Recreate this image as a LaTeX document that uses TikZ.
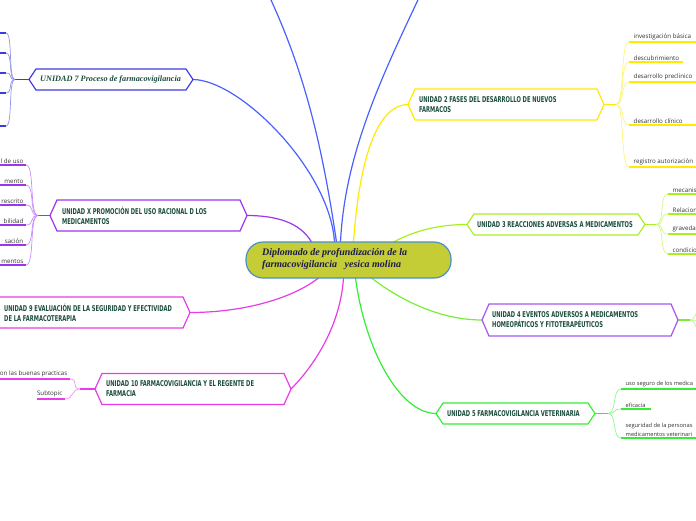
\documentclass[tikz,border=0pt]{standalone}
\usepackage{fontspec}
\setmainfont{Liberation Serif}
\newfontfamily\unitfont[FakeStretch=0.72]{DejaVu Sans Condensed}
\newfontfamily\leaffont{Open Sans}
\newfontfamily\titlefont{Liberation Serif}
\definecolor{cblue}{HTML}{4A60FF}
\definecolor{cblueb}{HTML}{3C3CDC}
\definecolor{cpurp}{HTML}{9B35F0}
\definecolor{cmag}{HTML}{E83CE8}
\definecolor{cyel}{HTML}{FFEA00}
\definecolor{clime}{HTML}{A8F020}
\definecolor{cgreen}{HTML}{33EE33}
\definecolor{cvio}{HTML}{A855EE}
\definecolor{cl4}{HTML}{77EE33}
\definecolor{cfill}{HTML}{C4CC36}
\definecolor{cbord}{HTML}{4A90C8}
\definecolor{ctext}{HTML}{1B4D3E}
\definecolor{cnavy}{HTML}{1C1C4A}
\definecolor{leafc}{HTML}{333333}
\newcommand\hexa[2]{\draw[#2, line width=1.2pt, fill=white] (#1.west) -- ([xshift=7pt]#1.north west) -- ([xshift=-7pt]#1.north east) -- (#1.east) -- ([xshift=-7pt]#1.south east) -- ([xshift=7pt]#1.south west) -- cycle;}
% right-side leaf: junction, name, xleft, xright, y, colour, text
\newcommand\leafR[7]{%
  \coordinate (#2a) at (#3,#5); \coordinate (#2b) at (#4,#5);
  \draw[#6!55, line width=0.7pt] (#1) .. controls +(9,0) and +(-9,0) .. (#2a);
  \draw[#6, line width=1.8pt] (#2a) -- (#2b);
  \node[leaf, anchor=south west] (#2t) at ([xshift=4pt,yshift=1.2pt]#2a) {#7};}
% left-side leaf: junction, name, xright, xleft, y, colour, text
\newcommand\leafL[7]{%
  \coordinate (#2a) at (#3,#5); \coordinate (#2b) at (#4,#5);
  \draw[#6!55, line width=0.7pt] (#1) .. controls +(-9,0) and +(9,0) .. (#2a);
  \draw[#6, line width=1.8pt] (#2a) -- (#2b);
  \node[leaf, anchor=south east] (#2t) at ([xshift=-2pt,yshift=1.2pt]#2a) {#7};}
% left-side leaf without visible text
\newcommand\leafN[6]{%
  \coordinate (#2a) at (#3,#5); \coordinate (#2b) at (#4,#5);
  \draw[#6!55, line width=0.7pt] (#1) .. controls +(-7,0) and +(7,0) .. (#2a);
  \draw[#6, line width=1.8pt] (#2a) -- (#2b);}
\begin{document}
\begin{tikzpicture}[x=1pt,y=-1pt,
  ph/.style={inner sep=0pt, outer sep=0pt, rectangle},
  conn/.style={line width=1.2pt},
  stub/.style={line width=1.8pt},
  unitlbl/.style={anchor=west, inner sep=0pt, align=left, font=\unitfont\bfseries\fontsize{8}{10}\selectfont, text=ctext},
  leaf/.style={inner sep=0.5pt, align=left, font=\leaffont\fontsize{6.2}{9}\selectfont, text=leafc},
]
\useasboundingbox (0,0) rectangle (696,520);
\clip (0,0) rectangle (696,520);

% placeholders
\node[ph, minimum width=205pt, minimum height=36pt] (c) at (348.5,260) {};
\node[ph, minimum width=164pt, minimum height=21pt] (u7) at (111,79.5) {};
\node[ph, minimum width=197pt, minimum height=31pt] (ux) at (148.5,215.5) {};
\node[ph, minimum width=198pt, minimum height=31pt] (u9) at (91,312.5) {};
\node[ph, minimum width=196pt, minimum height=31pt] (u10) at (193,389) {};
\node[ph, minimum width=196pt, minimum height=31pt] (u2) at (506,104.5) {};
\node[ph, minimum width=178pt, minimum height=21pt] (u3) at (556,224.5) {};
\node[ph, minimum width=196pt, minimum height=32pt] (u4) at (580,320) {};
\node[ph, minimum width=159pt, minimum height=21pt] (u5) at (515.5,413.5) {};

% main connectors
\draw[conn, cblue] ([xshift=-14pt]c.north) .. controls (330,170) and (240,80) .. (u7.east);
\coordinate (top1) at (264,-15);
\coordinate (top2) at (425,-15);
\draw[conn, cblue] ([xshift=-12pt]c.north) .. controls (320,130) and (300,60) .. (top1);
\draw[conn, cblue] ([xshift=-8pt]c.north) .. controls (345,150) and (385,70) .. (top2);
\draw[conn, cyel] ([xshift=5pt]c.north) .. controls (360,150) and (380,104.5) .. (u2.west);
\draw[conn, clime] ([xshift=45pt]c.north) .. controls (420,228) and (445,224.5) .. (u3.west);
\draw[conn, cpurp] ([xshift=-37pt]c.north) .. controls (300,222) and (275,215.5) .. (ux.east);
\draw[conn, cmag] ([xshift=-30pt]c.south) .. controls (290,300) and (240,312.5) .. (u9.east);
\draw[conn, cmag] ([xshift=-5pt]c.south) .. controls (340,330) and (310,370) .. (u10.east);
\draw[conn, cgreen] ([xshift=7pt]c.south) .. controls (365,350) and (400,413.5) .. (u5.west);
\draw[conn, cl4] ([xshift=23pt]c.south) .. controls (400,300) and (440,320) .. (u4.west);

% UNIDAD 7 leaves
\coordinate (j7) at (15,79.5);
\draw[stub, cblueb] (u7.west) -- (j7);
\leafN{j7}{l71}{6}{-3}{33}{cblueb}
\leafN{j7}{l72}{6}{-3}{53}{cblueb}
\leafN{j7}{l73}{6}{-3}{73}{cblueb}
\leafN{j7}{l74}{6}{-3}{93}{cblueb}
\leafN{j7}{l75}{6}{-3}{126}{cblueb}

% UNIDAD X leaves
\coordinate (jx) at (38,215.5);
\draw[stub, cpurp] (ux.west) -- (jx);
\leafL{jx}{lx1}{26}{-3}{165}{cpurp}{l de uso}
\leafL{jx}{lx2}{26}{-3}{185}{cpurp}{mento}
\leafL{jx}{lx3}{26}{-3}{205}{cpurp}{rescrito}
\leafL{jx}{lx4}{26}{-3}{225}{cpurp}{bilidad}
\leafL{jx}{lx5}{26}{-3}{245}{cpurp}{sación}
\leafL{jx}{lx6}{26}{-3}{265}{cpurp}{mentos}

% UNIDAD 10 leaves
\coordinate (j10) at (80,389);
\draw[stub, cmag] (u10.west) -- (j10);
\leafL{j10}{l101}{70}{-3}{379}{cmag}{on las buenas practicas}
\leafL{j10}{l102}{65}{37}{399}{cmag}{Subtopic}

% UNIDAD 2 leaves
\coordinate (j2) at (616,104.5);
\draw[stub, cyel] (u2.east) -- (j2);
\leafR{j2}{l21}{629}{700}{42}{cyel}{investigación básica}
\leafR{j2}{l22}{629}{683}{62}{cyel}{descubrimiento}
\leafR{j2}{l23}{629}{700}{82}{cyel}{desarrollo preclinico}
\leafR{j2}{l24}{629}{700}{125}{cyel}{desarrollo clínico}
\leafR{j2}{l25}{629}{700}{167}{cyel}{registro autorización}

% UNIDAD 3 leaves
\coordinate (j3) at (656,224.5);
\draw[stub, clime] (u3.east) -- (j3);
\leafR{j3}{l31}{668}{700}{194}{clime}{mecanis}
\leafR{j3}{l32}{668}{700}{214}{clime}{Relacion}
\leafR{j3}{l33}{668}{700}{234}{clime}{graveda}
\leafR{j3}{l34}{668}{700}{254}{clime}{condicio}

% UNIDAD 4 leaves (off the page)
\coordinate (j4) at (690,320);
\coordinate (l41) at (706,298);
\coordinate (l42) at (706,321);
\coordinate (l43) at (706,344);
\draw[stub, cl4] (u4.east) -- (j4);
\draw[cl4!55, line width=0.7pt] (j4) .. controls +(8,0) and +(-8,0) .. (l41);
\draw[cl4!55, line width=0.7pt] (j4) -- (l42);
\draw[cl4!55, line width=0.7pt] (j4) .. controls +(8,0) and +(-8,0) .. (l43);

% UNIDAD 5 leaves
\coordinate (j5) at (608,413.5);
\draw[stub, cgreen] (u5.east) -- (j5);
\begin{scope}[leaf/.append style={font=\leaffont\fontsize{5.7}{8.5}\selectfont}]
\leafR{j5}{l51}{621}{700}{389}{cgreen}{uso seguro de los medica}
\leafR{j5}{l52}{621}{651}{409}{cgreen}{eficacia}
\leafR{j5}{l53}{621}{700}{438}{cgreen}{seguridad de la personas\\medicamentos veterinari}
\end{scope}

% unit boxes
\hexa{u7}{cblueb}
\hexa{ux}{cpurp}
\hexa{u9}{cmag}
\hexa{u10}{cmag}
\hexa{u2}{cyel}
\hexa{u3}{clime}
\hexa{u4}{cvio}
\hexa{u5}{cgreen}

% unit labels
\node[anchor=west, inner sep=0pt, font=\titlefont\bfseries\itshape\fontsize{8.2}{10}\selectfont, text=ctext] (t7) at ([xshift=11pt]u7.west) {UNIDAD 7 Proceso de farmacovigilancia};
\node[unitlbl] (tx) at ([xshift=12pt]ux.west) {UNIDAD X PROMOCIÓN DEL USO RACIONAL D LOS\\MEDICAMENTOS};
\node[unitlbl] (t9) at ([xshift=12pt]u9.west) {UNIDAD 9 EVALUACIÓN DE LA SEGURIDAD Y EFECTIVIDAD\\DE LA FARMACOTERAPIA};
\node[unitlbl] (t10) at ([xshift=11pt]u10.west) {UNIDAD 10 FARMACOVIGILANCIA Y EL REGENTE DE\\FARMACIA};
\node[unitlbl] (t2) at ([xshift=11pt]u2.west) {UNIDAD 2 FASES DEL DESARROLLO DE NUEVOS\\FARMACOS};
\node[unitlbl] (t3) at ([xshift=10pt]u3.west) {UNIDAD 3 REACCIONES ADVERSAS A MEDICAMENTOS};
\node[unitlbl] (t4) at ([xshift=10pt]u4.west) {UNIDAD 4 EVENTOS ADVERSOS A MEDICAMENTOS\\HOMEOPÁTICOS Y FITOTERAPÉUTICOS};
\node[unitlbl] (t5) at ([xshift=11pt]u5.west) {UNIDAD 5 FARMACOVIGILANCIA VETERINARIA};

% central topic
\draw[cbord, fill=cfill, line width=1.2pt, rounded corners=17pt] (c.north west) rectangle (c.south east);
\node[anchor=west, inner sep=0pt, align=left, font=\titlefont\bfseries\itshape\fontsize{10}{12}\selectfont, text=cnavy] (ct) at (262,259.5) {Diplomado de profundización de la\\farmacovigilancia \ \ yesica molina};
\end{tikzpicture}
\end{document}
